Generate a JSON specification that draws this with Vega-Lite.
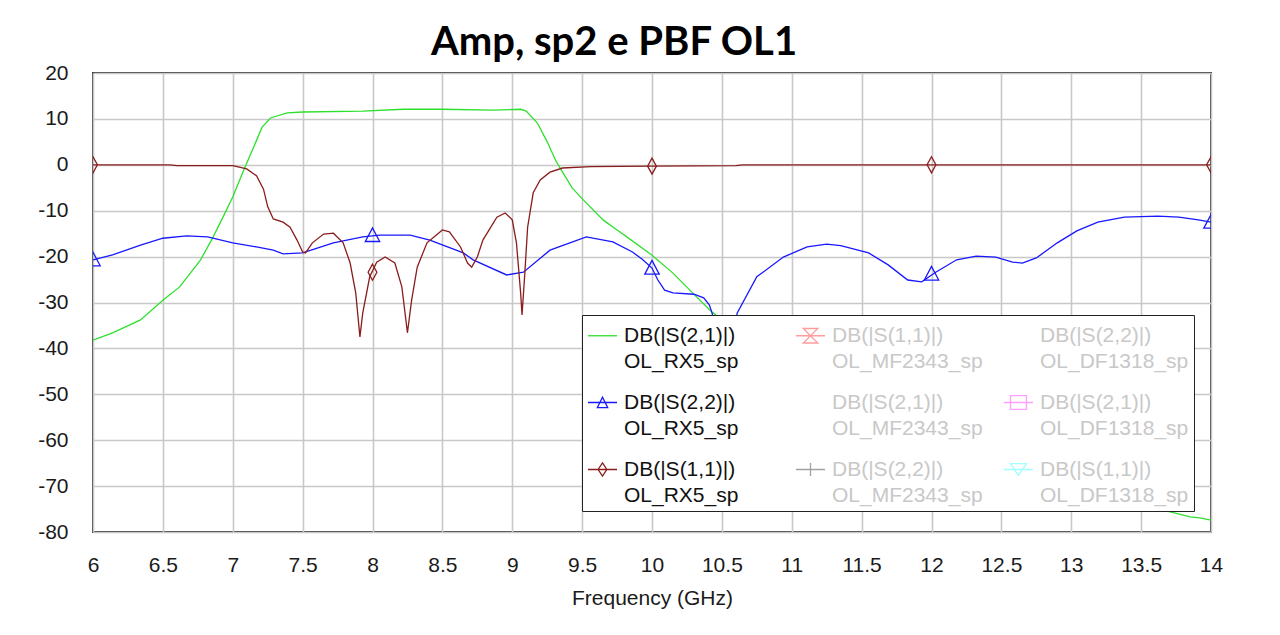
{
  "$schema": "https://vega.github.io/schema/vega-lite/v6.json",
  "width": 1118,
  "height": 459,
  "autosize": {"type": "none"},
  "padding": {"left": 93, "top": 73, "right": 69, "bottom": 103},
  "background": "white",
  "title": {
    "text": "Amp, sp2 e PBF OL1",
    "font": "Lato",
    "fontWeight": "bold",
    "fontSize": 40,
    "color": "#000000",
    "anchor": "middle",
    "dx": -38,
    "dy": 51,
    "baseline": "alphabetic",
    "offset": 18
  },
  "config": {
    "view": {"stroke": "#3a3a3a", "strokeWidth": 2},
    "axis": {
      "labelFont": "Liberation Sans",
      "labelFontSize": 21,
      "labelColor": "#1a1a1a",
      "titleFont": "Liberation Sans",
      "titleFontSize": 21,
      "titleFontWeight": "normal",
      "titleColor": "#1a1a1a",
      "domain": false,
      "ticks": false,
      "labelFlush": false,
      "gridColor": "#c8c8c8",
      "gridWidth": 1.6,
      "gridOpacity": 1
    }
  },
  "datasets": {
    "traces": [
      {"f": 6.0, "db": -38.2, "trace": "DB(|S(2,1)|) OL_RX5_sp"},
      {"f": 6.14, "db": -36.6, "trace": "DB(|S(2,1)|) OL_RX5_sp"},
      {"f": 6.34, "db": -33.8, "trace": "DB(|S(2,1)|) OL_RX5_sp"},
      {"f": 6.5, "db": -29.5, "trace": "DB(|S(2,1)|) OL_RX5_sp"},
      {"f": 6.62, "db": -26.6, "trace": "DB(|S(2,1)|) OL_RX5_sp"},
      {"f": 6.77, "db": -20.7, "trace": "DB(|S(2,1)|) OL_RX5_sp"},
      {"f": 6.86, "db": -15.7, "trace": "DB(|S(2,1)|) OL_RX5_sp"},
      {"f": 6.93, "db": -11.4, "trace": "DB(|S(2,1)|) OL_RX5_sp"},
      {"f": 7.0, "db": -7.0, "trace": "DB(|S(2,1)|) OL_RX5_sp"},
      {"f": 7.07, "db": -1.8, "trace": "DB(|S(2,1)|) OL_RX5_sp"},
      {"f": 7.15, "db": 3.9, "trace": "DB(|S(2,1)|) OL_RX5_sp"},
      {"f": 7.21, "db": 8.2, "trace": "DB(|S(2,1)|) OL_RX5_sp"},
      {"f": 7.27, "db": 10.2, "trace": "DB(|S(2,1)|) OL_RX5_sp"},
      {"f": 7.39, "db": 11.3, "trace": "DB(|S(2,1)|) OL_RX5_sp"},
      {"f": 7.5, "db": 11.5, "trace": "DB(|S(2,1)|) OL_RX5_sp"},
      {"f": 7.93, "db": 11.7, "trace": "DB(|S(2,1)|) OL_RX5_sp"},
      {"f": 8.22, "db": 12.1, "trace": "DB(|S(2,1)|) OL_RX5_sp"},
      {"f": 8.5, "db": 12.1, "trace": "DB(|S(2,1)|) OL_RX5_sp"},
      {"f": 8.86, "db": 11.9, "trace": "DB(|S(2,1)|) OL_RX5_sp"},
      {"f": 9.06, "db": 12.1, "trace": "DB(|S(2,1)|) OL_RX5_sp"},
      {"f": 9.1, "db": 11.7, "trace": "DB(|S(2,1)|) OL_RX5_sp"},
      {"f": 9.18, "db": 9.1, "trace": "DB(|S(2,1)|) OL_RX5_sp"},
      {"f": 9.25, "db": 5.0, "trace": "DB(|S(2,1)|) OL_RX5_sp"},
      {"f": 9.31, "db": 1.0, "trace": "DB(|S(2,1)|) OL_RX5_sp"},
      {"f": 9.36, "db": -1.6, "trace": "DB(|S(2,1)|) OL_RX5_sp"},
      {"f": 9.43, "db": -5.1, "trace": "DB(|S(2,1)|) OL_RX5_sp"},
      {"f": 9.51, "db": -7.7, "trace": "DB(|S(2,1)|) OL_RX5_sp"},
      {"f": 9.65, "db": -12.0, "trace": "DB(|S(2,1)|) OL_RX5_sp"},
      {"f": 9.75, "db": -14.2, "trace": "DB(|S(2,1)|) OL_RX5_sp"},
      {"f": 9.82, "db": -15.7, "trace": "DB(|S(2,1)|) OL_RX5_sp"},
      {"f": 10.0, "db": -19.7, "trace": "DB(|S(2,1)|) OL_RX5_sp"},
      {"f": 10.15, "db": -23.6, "trace": "DB(|S(2,1)|) OL_RX5_sp"},
      {"f": 10.29, "db": -27.9, "trace": "DB(|S(2,1)|) OL_RX5_sp"},
      {"f": 10.43, "db": -32.1, "trace": "DB(|S(2,1)|) OL_RX5_sp"},
      {"f": 10.6, "db": -36.0, "trace": "DB(|S(2,1)|) OL_RX5_sp"},
      {"f": 11.0, "db": -44.0, "trace": "DB(|S(2,1)|) OL_RX5_sp"},
      {"f": 11.5, "db": -52.0, "trace": "DB(|S(2,1)|) OL_RX5_sp"},
      {"f": 12.0, "db": -59.0, "trace": "DB(|S(2,1)|) OL_RX5_sp"},
      {"f": 12.5, "db": -65.0, "trace": "DB(|S(2,1)|) OL_RX5_sp"},
      {"f": 13.0, "db": -70.0, "trace": "DB(|S(2,1)|) OL_RX5_sp"},
      {"f": 13.5, "db": -74.0, "trace": "DB(|S(2,1)|) OL_RX5_sp"},
      {"f": 13.85, "db": -76.7, "trace": "DB(|S(2,1)|) OL_RX5_sp"},
      {"f": 13.92, "db": -76.9, "trace": "DB(|S(2,1)|) OL_RX5_sp"},
      {"f": 14.0, "db": -77.4, "trace": "DB(|S(2,1)|) OL_RX5_sp"},

      {"f": 6.0, "db": -20.7, "trace": "DB(|S(2,2)|) OL_RX5_sp"},
      {"f": 6.14, "db": -19.6, "trace": "DB(|S(2,2)|) OL_RX5_sp"},
      {"f": 6.34, "db": -17.5, "trace": "DB(|S(2,2)|) OL_RX5_sp"},
      {"f": 6.5, "db": -16.0, "trace": "DB(|S(2,2)|) OL_RX5_sp"},
      {"f": 6.67, "db": -15.5, "trace": "DB(|S(2,2)|) OL_RX5_sp"},
      {"f": 6.82, "db": -15.7, "trace": "DB(|S(2,2)|) OL_RX5_sp"},
      {"f": 7.0, "db": -17.0, "trace": "DB(|S(2,2)|) OL_RX5_sp"},
      {"f": 7.17, "db": -17.9, "trace": "DB(|S(2,2)|) OL_RX5_sp"},
      {"f": 7.29, "db": -18.6, "trace": "DB(|S(2,2)|) OL_RX5_sp"},
      {"f": 7.36, "db": -19.4, "trace": "DB(|S(2,2)|) OL_RX5_sp"},
      {"f": 7.5, "db": -19.2, "trace": "DB(|S(2,2)|) OL_RX5_sp"},
      {"f": 7.72, "db": -17.0, "trace": "DB(|S(2,2)|) OL_RX5_sp"},
      {"f": 7.93, "db": -15.7, "trace": "DB(|S(2,2)|) OL_RX5_sp"},
      {"f": 8.05, "db": -15.3, "trace": "DB(|S(2,2)|) OL_RX5_sp"},
      {"f": 8.27, "db": -15.3, "trace": "DB(|S(2,2)|) OL_RX5_sp"},
      {"f": 8.41, "db": -16.4, "trace": "DB(|S(2,2)|) OL_RX5_sp"},
      {"f": 8.65, "db": -19.2, "trace": "DB(|S(2,2)|) OL_RX5_sp"},
      {"f": 8.72, "db": -20.7, "trace": "DB(|S(2,2)|) OL_RX5_sp"},
      {"f": 8.96, "db": -24.0, "trace": "DB(|S(2,2)|) OL_RX5_sp"},
      {"f": 9.08, "db": -23.4, "trace": "DB(|S(2,2)|) OL_RX5_sp"},
      {"f": 9.27, "db": -18.6, "trace": "DB(|S(2,2)|) OL_RX5_sp"},
      {"f": 9.53, "db": -15.7, "trace": "DB(|S(2,2)|) OL_RX5_sp"},
      {"f": 9.72, "db": -16.8, "trace": "DB(|S(2,2)|) OL_RX5_sp"},
      {"f": 9.86, "db": -19.0, "trace": "DB(|S(2,2)|) OL_RX5_sp"},
      {"f": 9.93, "db": -20.6, "trace": "DB(|S(2,2)|) OL_RX5_sp"},
      {"f": 10.0, "db": -22.5, "trace": "DB(|S(2,2)|) OL_RX5_sp"},
      {"f": 10.04, "db": -25.0, "trace": "DB(|S(2,2)|) OL_RX5_sp"},
      {"f": 10.09, "db": -27.3, "trace": "DB(|S(2,2)|) OL_RX5_sp"},
      {"f": 10.15, "db": -27.9, "trace": "DB(|S(2,2)|) OL_RX5_sp"},
      {"f": 10.3, "db": -28.2, "trace": "DB(|S(2,2)|) OL_RX5_sp"},
      {"f": 10.37, "db": -29.0, "trace": "DB(|S(2,2)|) OL_RX5_sp"},
      {"f": 10.41, "db": -30.5, "trace": "DB(|S(2,2)|) OL_RX5_sp"},
      {"f": 10.43, "db": -32.3, "trace": "DB(|S(2,2)|) OL_RX5_sp"},
      {"f": 10.47, "db": -38.0, "trace": "DB(|S(2,2)|) OL_RX5_sp"},
      {"f": 10.52, "db": -46.0, "trace": "DB(|S(2,2)|) OL_RX5_sp"},
      {"f": 10.57, "db": -38.0, "trace": "DB(|S(2,2)|) OL_RX5_sp"},
      {"f": 10.61, "db": -32.3, "trace": "DB(|S(2,2)|) OL_RX5_sp"},
      {"f": 10.75, "db": -24.4, "trace": "DB(|S(2,2)|) OL_RX5_sp"},
      {"f": 10.94, "db": -20.1, "trace": "DB(|S(2,2)|) OL_RX5_sp"},
      {"f": 11.11, "db": -17.9, "trace": "DB(|S(2,2)|) OL_RX5_sp"},
      {"f": 11.25, "db": -17.3, "trace": "DB(|S(2,2)|) OL_RX5_sp"},
      {"f": 11.35, "db": -17.6, "trace": "DB(|S(2,2)|) OL_RX5_sp"},
      {"f": 11.55, "db": -19.2, "trace": "DB(|S(2,2)|) OL_RX5_sp"},
      {"f": 11.69, "db": -21.8, "trace": "DB(|S(2,2)|) OL_RX5_sp"},
      {"f": 11.83, "db": -25.1, "trace": "DB(|S(2,2)|) OL_RX5_sp"},
      {"f": 11.93, "db": -25.5, "trace": "DB(|S(2,2)|) OL_RX5_sp"},
      {"f": 12.03, "db": -23.4, "trace": "DB(|S(2,2)|) OL_RX5_sp"},
      {"f": 12.18, "db": -20.7, "trace": "DB(|S(2,2)|) OL_RX5_sp"},
      {"f": 12.32, "db": -19.9, "trace": "DB(|S(2,2)|) OL_RX5_sp"},
      {"f": 12.46, "db": -20.1, "trace": "DB(|S(2,2)|) OL_RX5_sp"},
      {"f": 12.58, "db": -21.2, "trace": "DB(|S(2,2)|) OL_RX5_sp"},
      {"f": 12.65, "db": -21.4, "trace": "DB(|S(2,2)|) OL_RX5_sp"},
      {"f": 12.75, "db": -20.3, "trace": "DB(|S(2,2)|) OL_RX5_sp"},
      {"f": 12.9, "db": -17.0, "trace": "DB(|S(2,2)|) OL_RX5_sp"},
      {"f": 13.04, "db": -14.4, "trace": "DB(|S(2,2)|) OL_RX5_sp"},
      {"f": 13.19, "db": -12.5, "trace": "DB(|S(2,2)|) OL_RX5_sp"},
      {"f": 13.38, "db": -11.4, "trace": "DB(|S(2,2)|) OL_RX5_sp"},
      {"f": 13.62, "db": -11.2, "trace": "DB(|S(2,2)|) OL_RX5_sp"},
      {"f": 13.77, "db": -11.4, "trace": "DB(|S(2,2)|) OL_RX5_sp"},
      {"f": 13.91, "db": -12.0, "trace": "DB(|S(2,2)|) OL_RX5_sp"},
      {"f": 14.0, "db": -12.5, "trace": "DB(|S(2,2)|) OL_RX5_sp"},

      {"f": 6.0, "db": 0.0, "trace": "DB(|S(1,1)|) OL_RX5_sp"},
      {"f": 6.55, "db": 0.0, "trace": "DB(|S(1,1)|) OL_RX5_sp"},
      {"f": 6.6, "db": -0.2, "trace": "DB(|S(1,1)|) OL_RX5_sp"},
      {"f": 7.0, "db": -0.2, "trace": "DB(|S(1,1)|) OL_RX5_sp"},
      {"f": 7.1, "db": -0.9, "trace": "DB(|S(1,1)|) OL_RX5_sp"},
      {"f": 7.17, "db": -2.4, "trace": "DB(|S(1,1)|) OL_RX5_sp"},
      {"f": 7.22, "db": -5.3, "trace": "DB(|S(1,1)|) OL_RX5_sp"},
      {"f": 7.25, "db": -9.1, "trace": "DB(|S(1,1)|) OL_RX5_sp"},
      {"f": 7.29, "db": -11.8, "trace": "DB(|S(1,1)|) OL_RX5_sp"},
      {"f": 7.36, "db": -12.5, "trace": "DB(|S(1,1)|) OL_RX5_sp"},
      {"f": 7.41, "db": -13.6, "trace": "DB(|S(1,1)|) OL_RX5_sp"},
      {"f": 7.46, "db": -16.4, "trace": "DB(|S(1,1)|) OL_RX5_sp"},
      {"f": 7.5, "db": -19.0, "trace": "DB(|S(1,1)|) OL_RX5_sp"},
      {"f": 7.52, "db": -19.2, "trace": "DB(|S(1,1)|) OL_RX5_sp"},
      {"f": 7.57, "db": -17.0, "trace": "DB(|S(1,1)|) OL_RX5_sp"},
      {"f": 7.65, "db": -15.1, "trace": "DB(|S(1,1)|) OL_RX5_sp"},
      {"f": 7.72, "db": -14.9, "trace": "DB(|S(1,1)|) OL_RX5_sp"},
      {"f": 7.79, "db": -17.0, "trace": "DB(|S(1,1)|) OL_RX5_sp"},
      {"f": 7.84, "db": -21.4, "trace": "DB(|S(1,1)|) OL_RX5_sp"},
      {"f": 7.88, "db": -27.9, "trace": "DB(|S(1,1)|) OL_RX5_sp"},
      {"f": 7.91, "db": -37.5, "trace": "DB(|S(1,1)|) OL_RX5_sp"},
      {"f": 7.93, "db": -32.3, "trace": "DB(|S(1,1)|) OL_RX5_sp"},
      {"f": 7.98, "db": -24.4, "trace": "DB(|S(1,1)|) OL_RX5_sp"},
      {"f": 8.03, "db": -21.2, "trace": "DB(|S(1,1)|) OL_RX5_sp"},
      {"f": 8.09, "db": -20.1, "trace": "DB(|S(1,1)|) OL_RX5_sp"},
      {"f": 8.16, "db": -21.4, "trace": "DB(|S(1,1)|) OL_RX5_sp"},
      {"f": 8.21, "db": -26.6, "trace": "DB(|S(1,1)|) OL_RX5_sp"},
      {"f": 8.25, "db": -36.6, "trace": "DB(|S(1,1)|) OL_RX5_sp"},
      {"f": 8.28, "db": -29.5, "trace": "DB(|S(1,1)|) OL_RX5_sp"},
      {"f": 8.32, "db": -22.3, "trace": "DB(|S(1,1)|) OL_RX5_sp"},
      {"f": 8.39, "db": -17.0, "trace": "DB(|S(1,1)|) OL_RX5_sp"},
      {"f": 8.5, "db": -14.2, "trace": "DB(|S(1,1)|) OL_RX5_sp"},
      {"f": 8.55, "db": -14.6, "trace": "DB(|S(1,1)|) OL_RX5_sp"},
      {"f": 8.63, "db": -17.9, "trace": "DB(|S(1,1)|) OL_RX5_sp"},
      {"f": 8.68, "db": -21.4, "trace": "DB(|S(1,1)|) OL_RX5_sp"},
      {"f": 8.71, "db": -22.3, "trace": "DB(|S(1,1)|) OL_RX5_sp"},
      {"f": 8.75, "db": -20.1, "trace": "DB(|S(1,1)|) OL_RX5_sp"},
      {"f": 8.79, "db": -16.4, "trace": "DB(|S(1,1)|) OL_RX5_sp"},
      {"f": 8.89, "db": -11.4, "trace": "DB(|S(1,1)|) OL_RX5_sp"},
      {"f": 8.95, "db": -10.5, "trace": "DB(|S(1,1)|) OL_RX5_sp"},
      {"f": 9.0, "db": -12.0, "trace": "DB(|S(1,1)|) OL_RX5_sp"},
      {"f": 9.03, "db": -17.0, "trace": "DB(|S(1,1)|) OL_RX5_sp"},
      {"f": 9.06, "db": -27.9, "trace": "DB(|S(1,1)|) OL_RX5_sp"},
      {"f": 9.07, "db": -32.7, "trace": "DB(|S(1,1)|) OL_RX5_sp"},
      {"f": 9.09, "db": -23.6, "trace": "DB(|S(1,1)|) OL_RX5_sp"},
      {"f": 9.11, "db": -13.6, "trace": "DB(|S(1,1)|) OL_RX5_sp"},
      {"f": 9.15, "db": -6.1, "trace": "DB(|S(1,1)|) OL_RX5_sp"},
      {"f": 9.2, "db": -3.3, "trace": "DB(|S(1,1)|) OL_RX5_sp"},
      {"f": 9.27, "db": -1.6, "trace": "DB(|S(1,1)|) OL_RX5_sp"},
      {"f": 9.36, "db": -0.7, "trace": "DB(|S(1,1)|) OL_RX5_sp"},
      {"f": 9.56, "db": -0.4, "trace": "DB(|S(1,1)|) OL_RX5_sp"},
      {"f": 10.0, "db": -0.3, "trace": "DB(|S(1,1)|) OL_RX5_sp"},
      {"f": 10.6, "db": -0.2, "trace": "DB(|S(1,1)|) OL_RX5_sp"},
      {"f": 10.65, "db": 0.0, "trace": "DB(|S(1,1)|) OL_RX5_sp"},
      {"f": 14.0, "db": 0.0, "trace": "DB(|S(1,1)|) OL_RX5_sp"}
    ],
    "markers": [
      {"f": 6.0, "db": -20.7, "trace": "DB(|S(2,2)|) OL_RX5_sp"},
      {"f": 8.0, "db": -15.4, "trace": "DB(|S(2,2)|) OL_RX5_sp"},
      {"f": 10.0, "db": -22.5, "trace": "DB(|S(2,2)|) OL_RX5_sp"},
      {"f": 12.0, "db": -23.8, "trace": "DB(|S(2,2)|) OL_RX5_sp"},
      {"f": 14.0, "db": -12.5, "trace": "DB(|S(2,2)|) OL_RX5_sp"},
      {"f": 6.0, "db": 0.0, "trace": "DB(|S(1,1)|) OL_RX5_sp"},
      {"f": 8.0, "db": -23.4, "trace": "DB(|S(1,1)|) OL_RX5_sp"},
      {"f": 10.0, "db": -0.3, "trace": "DB(|S(1,1)|) OL_RX5_sp"},
      {"f": 12.0, "db": 0.0, "trace": "DB(|S(1,1)|) OL_RX5_sp"},
      {"f": 14.0, "db": 0.0, "trace": "DB(|S(1,1)|) OL_RX5_sp"}
    ]
  },
  "encoding": {
    "x": {
      "field": "f",
      "type": "quantitative",
      "title": "Frequency (GHz)",
      "scale": {"domain": [6, 14], "nice": false, "zero": false},
      "axis": {
        "values": [6, 6.5, 7, 7.5, 8, 8.5, 9, 9.5, 10, 10.5, 11, 11.5, 12, 12.5, 13, 13.5, 14],
        "format": ".1~f",
        "labelPadding": 22,
        "titlePadding": 12
      }
    },
    "y": {
      "field": "db",
      "type": "quantitative",
      "title": null,
      "scale": {"domain": [-80, 20], "nice": false, "zero": false},
      "axis": {
        "values": [-80, -70, -60, -50, -40, -30, -20, -10, 0, 10, 20],
        "labelExpr": "'' + datum.value",
        "labelPadding": 25
      }
    },
    "color": {
      "field": "trace",
      "type": "nominal",
      "scale": {
        "domain": [
          "DB(|S(2,1)|) OL_RX5_sp",
          "DB(|S(1,1)|) OL_MF2343_sp",
          "DB(|S(2,2)|) OL_DF1318_sp",
          "DB(|S(2,2)|) OL_RX5_sp",
          "DB(|S(2,1)|) OL_MF2343_sp",
          "DB(|S(2,1)|) OL_DF1318_sp",
          "DB(|S(1,1)|) OL_RX5_sp",
          "DB(|S(2,2)|) OL_MF2343_sp",
          "DB(|S(1,1)|) OL_DF1318_sp"
        ],
        "range": ["#2ee02e", "#ff9c9c", "#d8d8d8", "#1818ff", "#d8d8d8", "#ffa0ff", "#8b1c1c", "#a0a0a0", "#a0ffff"]
      },
      "legend": {
        "title": null,
        "orient": "none",
        "legendX": 489,
        "legendY": 242,
        "columns": 3,
        "direction": "horizontal",
        "gridAlign": "all",
        "fillColor": "#ffffff",
        "strokeColor": "#222222",
        "padding": 5,
        "symbolSize": 841,
        "symbolStrokeWidth": 1.3,
        "symbolFillColor": "transparent",
        "symbolOffset": 0,
        "labelOffset": 6,
        "labelFont": "Liberation Sans",
        "labelFontSize": 21,
        "labelLimit": 400,
        "columnPadding": 18,
        "rowPadding": 15,
        "labelExpr": "split(datum.label, ' ')",
        "encode": {
          "symbols": {
            "update": {
              "shape": {"signal": "['M-1,0L1,0', 'M-1,0L1,0M-0.5,-0.5L0.5,-0.5L-0.5,0.5L0.5,0.5Z', 'M0,0', 'M-1,0L1,0M-0.36,0.36L0,-0.36L0.36,0.36Z', 'M0,0', 'M-1,0L1,0M-0.55,-0.48L0.55,-0.48L0.55,0.48L-0.55,0.48Z', 'M-1,0L1,0M0,-0.45L0.3,0L0,0.45L-0.3,0Z', 'M-1,0L1,0M0,-0.45L0,0.45', 'M-1,0L1,0M-0.55,-0.4L0.55,-0.4L0,0.4Z'][indexof(domain('color'), datum.value)]"},
              "fill": {"value": "transparent"},
              "opacity": {"value": 1}
            }
          },
          "labels": {
            "update": {
              "fill": {"signal": "indexof([0, 3, 6], indexof(domain('color'), datum.value)) >= 0 ? '#111111' : '#c8c8c8'"},
              "lineHeight": {"value": 26}
            }
          }
        }
      }
    }
  },
  "layer": [
    {
      "data": {"name": "traces"},
      "mark": {"type": "line", "strokeWidth": 1.3, "clip": true}
    },
    {
      "data": {"name": "markers"},
      "mark": {"type": "point", "filled": false, "strokeWidth": 1.3, "size": 256, "opacity": 1, "clip": true},
      "encoding": {
        "shape": {
          "field": "trace",
          "type": "nominal",
          "scale": {
            "domain": ["DB(|S(2,2)|) OL_RX5_sp", "DB(|S(1,1)|) OL_RX5_sp"],
            "range": ["M-0.9,0.75L0,-0.95L0.9,0.75Z", "M0,-1L0.55,0L0,1L-0.55,0Z"]
          },
          "legend": null
        }
      }
    }
  ]
}
